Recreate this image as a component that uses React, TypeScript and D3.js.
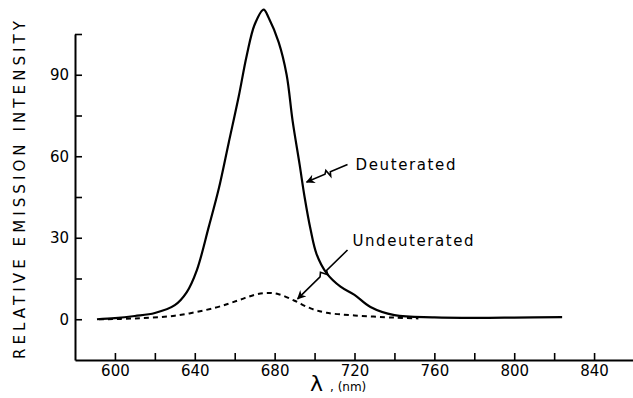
import React, { useEffect, useRef } from "react";
import * as d3 from "d3";

// Deuterated emission (solid curve)
const deutLambda = [591, 600, 610, 620, 630, 636, 641, 647, 652, 657, 662, 666, 670, 674.5, 677, 682, 686, 689, 692.5, 695, 698, 701, 706, 713, 720, 728, 740, 760, 780, 800, 824];
const deutValue = [0, 0.4, 1.2, 2.3, 5.2, 10, 18, 34, 48, 65, 82, 97, 108.5, 114, 111, 102, 90, 73, 57, 45, 33, 24, 17, 12, 9, 4.5, 1.5, 0.7, 0.5, 0.6, 0.8];

// Undeuterated emission (dashed curve)
const undeutLambda = [592, 610, 630, 650, 662, 670, 676, 682, 690, 698, 706, 720, 740, 752];
const undeutValue = [0, 0.3, 1.3, 4.2, 7, 9, 9.7, 9.2, 6.8, 4, 2.4, 1.4, 0.6, 0.3];

const xTicks = [600, 620, 640, 660, 680, 700, 720, 740, 760, 780, 800, 820, 840];
const yTicks = [0, 15, 30, 45, 60, 75, 90, 105];

const W = 633;
const H = 398;
const FONT = "'DejaVu Sans', sans-serif";

const App = () => {
  const svgRef = useRef<SVGSVGElement | null>(null);

  useEffect(() => {
    if (!svgRef.current) return;
    const svg = d3.select(svgRef.current);
    svg.selectAll("*").remove();

    const x = d3.scaleLinear().domain([580, 860]).range([75, 634]);
    const y = d3.scaleLinear().domain([-15, 105]).range([360, 34]);

    svg
      .append("defs")
      .append("marker")
      .attr("id", "head")
      .attr("viewBox", "0 0 10 10")
      .attr("refX", 9)
      .attr("refY", 5)
      .attr("markerWidth", 9)
      .attr("markerHeight", 9)
      .attr("markerUnits", "userSpaceOnUse")
      .attr("orient", "auto")
      .append("path")
      .attr("d", "M0,0 L10,5 L0,10 L3,5 Z")
      .attr("fill", "#000");

    // x axis
    const xAxis = svg
      .append("g")
      .attr("transform", `translate(0,${y(-15)})`)
      .call(
        d3
          .axisBottom(x)
          .tickValues(xTicks)
          .tickSizeInner(-7)
          .tickSizeOuter(0)
          .tickPadding(5)
          .tickFormat((d) => ((d as number) % 40 === 0 ? String(d) : ""))
      );
    xAxis.select(".domain").attr("stroke-width", 2);
    xAxis.selectAll(".tick line").attr("stroke-width", 1.6);
    xAxis.selectAll("text").style("font-size", "15px").style("font-family", FONT).attr("fill", "#000");

    // y axis
    const yAxis = svg
      .append("g")
      .attr("transform", `translate(${x(580)},0)`)
      .call(
        d3
          .axisLeft(y)
          .tickValues(yTicks)
          .tickSizeInner(-7)
          .tickSizeOuter(0)
          .tickPadding(6)
          .tickFormat((d) => ((d as number) % 30 === 0 ? String(d) : ""))
      );
    yAxis.select(".domain").attr("stroke-width", 2);
    yAxis.selectAll(".tick line").attr("stroke-width", 1.6);
    yAxis.selectAll("text").style("font-size", "15px").style("font-family", FONT).attr("fill", "#000");

    const line = d3
      .line<[number, number]>()
      .x((d) => x(d[0]))
      .y((d) => y(d[1]))
      .curve(d3.curveCatmullRom.alpha(0.5));

    const deut = deutLambda.map((l, i) => [l, deutValue[i]] as [number, number]);
    const undeut = undeutLambda.map((l, i) => [l, undeutValue[i]] as [number, number]);

    svg
      .append("path")
      .datum(undeut)
      .attr("fill", "none")
      .attr("stroke", "#000")
      .attr("stroke-width", 2)
      .attr("stroke-dasharray", "5,4")
      .attr("d", line);

    svg
      .append("path")
      .datum(deut)
      .attr("fill", "none")
      .attr("stroke", "#000")
      .attr("stroke-width", 2.2)
      .attr("d", line);

    // squiggly annotation arrows
    const squiggle = (x1: number, y1: number, x2: number, y2: number) => {
      const dx = x2 - x1;
      const dy = y2 - y1;
      const len = Math.hypot(dx, dy);
      const nx = -dy / len;
      const ny = dx / len;
      const p = (t: number, o: number) => [x1 + dx * t + nx * o, y1 + dy * t + ny * o];
      const pts = [p(0, 0), p(0.42, 0), p(0.45, -4), p(0.5, 3), p(0.55, 0), p(1, 0)];
      return "M" + pts.map((q) => q.join(",")).join("L");
    };

    const arrows = [
      { from: [716.5, 57], to: [696, 50.5] },
      { from: [716.5, 25.5], to: [691.5, 7.5] },
    ];
    arrows.forEach((a) => {
      svg
        .append("path")
        .attr("d", squiggle(x(a.from[0]), y(a.from[1]), x(a.to[0]), y(a.to[1])))
        .attr("fill", "none")
        .attr("stroke", "#000")
        .attr("stroke-width", 1.6)
        .attr("marker-end", "url(#head)");
    });

    const labels = [
      { text: "Deuterated", at: [720.5, 57], width: 100 },
      { text: "Undeuterated", at: [719, 29], width: 121 },
    ];
    labels.forEach((l) => {
      svg
        .append("text")
        .attr("x", x(l.at[0]))
        .attr("y", y(l.at[1]))
        .attr("dy", "0.35em")
        .attr("textLength", l.width)
        .attr("lengthAdjust", "spacing")
        .style("font-size", "15px")
        .style("font-family", FONT)
        .text(l.text);
    });

    // axis titles
    svg
      .append("text")
      .attr("transform", "rotate(-90)")
      .attr("x", -190)
      .attr("y", 20)
      .attr("dy", "0.35em")
      .attr("text-anchor", "middle")
      .attr("textLength", 338)
      .attr("lengthAdjust", "spacing")
      .style("font-size", "15px")
      .style("font-family", FONT)
      .text("RELATIVE EMISSION INTENSITY");

    svg
      .append("text")
      .attr("x", 310)
      .attr("y", 391)
      .style("font-size", "22px")
      .style("font-family", FONT)
      .text("λ");

    svg
      .append("text")
      .attr("x", 330)
      .attr("y", 391)
      .style("font-size", "12px")
      .style("font-family", FONT)
      .text(", (nm)");
  }, []);

  return (
    <svg
      ref={svgRef}
      width={W}
      height={H}
      style={{ position: "absolute", left: 0, top: 0, background: "#fff" }}
    />
  );
};

export default App;
